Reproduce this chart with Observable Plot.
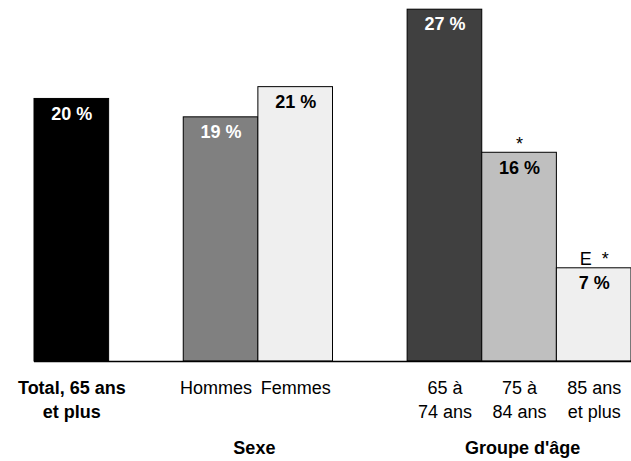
<!DOCTYPE html>
<html>
<head>
<meta charset="utf-8">
<script src="https://cdn.jsdelivr.net/npm/d3@7"></script>
<script src="https://cdn.jsdelivr.net/npm/@observablehq/plot@0.6"></script>
<style>
  html, body { margin: 0; padding: 0; background: #fff; }
  #chart svg { display: block; }
</style>
</head>
<body>
<div id="chart"></div>
<script>
const xDomain = ["total", "gap1", "hommes", "femmes", "gap2", "a65", "a75", "a85"];
const barKeys = ["total", "hommes", "femmes", "a65", "a75", "a85"];
const tickLabels = ["Total, 65 ans\net plus", "Hommes", "Femmes", "65 à\n74 ans", "75 à\n84 ans", "85 ans\net plus"];
const boldTick = [true, false, false, false, false, false];
const values = [20.0, 18.6, 20.9, 26.8, 15.9, 7.1];
const valueLabels = ["20 %", "19 %", "21 %", "27 %", "16 %", "7 %"];
const notes = ["", "", "", "", "*", "E  *"];
const fills = ["#000000", "#808080", "#efefef", "#404040", "#bfbfbf", "#efefef"];
const labelColors = ["#ffffff", "#ffffff", "#000000", "#ffffff", "#000000", "#000000"];
const groupAnchors = ["femmes", "a75"];
const groupLabels = ["Sexe", "Groupe d'âge"];

const data = barKeys.map((k, i) => ({
  key: k, value: values[i], label: valueLabels[i], note: notes[i],
  fill: fills[i], labelColor: labelColors[i], tick: tickLabels[i], bold: boldTick[i]
}));
const groups = groupAnchors.map((a, i) => ({key: a, label: groupLabels[i]}));

const W = 631, H = 461, mL = 34, mR = 0;
const bw = (W - mL - mR) / xDomain.length;
const font = "'Liberation Sans', Arial, sans-serif";

const chart = Plot.plot({
  width: W,
  height: H,
  marginLeft: mL,
  marginRight: mR,
  marginTop: 0,
  marginBottom: 100,
  style: {fontFamily: font, fontSize: "18px", background: "#fff", color: "#000"},
  x: {domain: xDomain, padding: 0, round: false, axis: null},
  y: {domain: [0, 27.5], axis: null},
  marks: [
    Plot.barY(data, {x: "key", y: "value", fill: "fill", stroke: "#000", strokeWidth: 1}),
    Plot.ruleY([0], {stroke: "#000", strokeWidth: 1.5}),
    Plot.text(data, {x: "key", y: "value", text: "label", fill: "labelColor",
      lineAnchor: "top", dy: 8, fontWeight: "bold", fontSize: 18}),
    Plot.text(data, {x: "key", y: "value", text: "note", fill: "#000",
      lineAnchor: "bottom", dy: -3, fontSize: 18}),
    Plot.text(data.filter(d => d.bold), {x: "key", y: 0, text: "tick", lineAnchor: "top",
      dy: 16, fontWeight: "bold", fontSize: 18, lineHeight: 1.3}),
    Plot.text(data.filter(d => d.key === "hommes"), {x: "key", y: 0, text: "tick", lineAnchor: "top",
      dy: 16, dx: -5, fontSize: 18, lineHeight: 1.3}),
    Plot.text(data.filter(d => !d.bold && d.key !== "hommes"), {x: "key", y: 0, text: "tick", lineAnchor: "top",
      dy: 16, fontSize: 18, lineHeight: 1.3}),
    Plot.text(groups.slice(0, 1), {x: "key", y: 0, text: "label", lineAnchor: "top",
      dy: 80, dx: -bw / 2 - 4, fontWeight: "bold", fontSize: 18}),
    Plot.text(groups.slice(1), {x: "key", y: 0, text: "label", lineAnchor: "top",
      dy: 80, dx: 3, fontWeight: "bold", fontSize: 18})
  ]
});
document.getElementById("chart").appendChild(chart);
</script>
</body>
</html>
